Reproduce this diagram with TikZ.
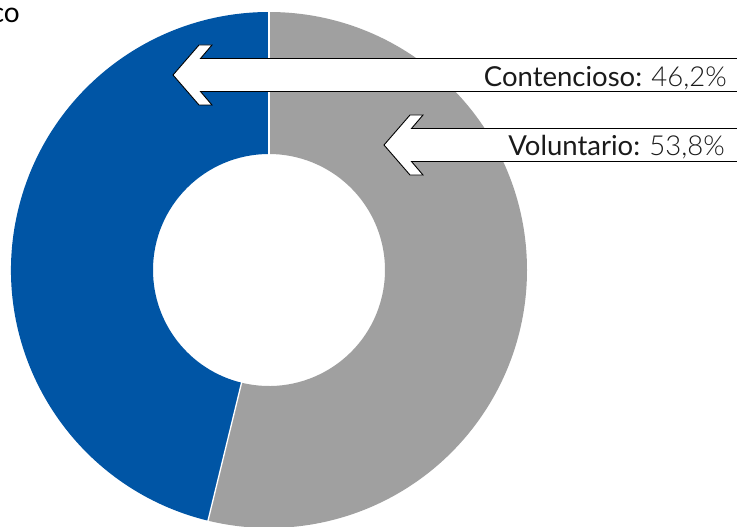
\documentclass[tikz,border=0pt]{standalone}
\usepackage{fontspec}
\setmainfont{Lato}
\newfontfamily\lightfont{Lato Light}
\definecolor{blueC}{HTML}{0055A5}
\definecolor{grayC}{HTML}{A0A0A0}
\definecolor{txtC}{HTML}{1A1A1A}
\tikzset{
  arrowbox/.style={fill=white, draw=black, line width=0.9pt, line join=miter},
  lab/.style={anchor=base east, inner sep=0pt, text=txtC, font=\fontsize{27.5}{32}\selectfont},
  sep/.style={draw=white, line width=1.3pt}
}
\newcommand\dcarrow[2]{%
  \filldraw[arrowbox] (#1,#2) -- ++(26,-30) -- ++(13,0) -- ++(-11.5,13.5)
    -- (760,{#2-16.5}) -- (760,{#2+16.5}) -- ({#1+27.5},{#2+16.5})
    -- ++(11.5,13.5) -- ++(-13,0) -- cycle;}
\begin{document}
\begin{tikzpicture}[x=1pt,y=-1pt]
\useasboundingbox (0,0) rectangle (737,527);
\fill[white] (0,0) rectangle (737,527);
\begin{scope}[shift={(269,270)}]
  \fill[grayC] (-90:258) arc[start angle=-90, end angle=103.68, radius=258]
    -- (103.68:116) arc[start angle=103.68, end angle=-90, radius=116] -- cycle;
  \fill[blueC] (103.68:258) arc[start angle=103.68, end angle=270, radius=258]
    -- (270:116) arc[start angle=270, end angle=103.68, radius=116] -- cycle;
  \draw[sep] (-90:115) -- (-90:259);
  \draw[sep] (103.68:115) -- (103.68:259);
\end{scope}
\dcarrow{173}{75}
\dcarrow{384}{145}
\node[lab] (lab1) at (727,87) {Contencioso: {\lightfont 46,2\%}};
\node[lab] (lab2) at (725,155) {Voluntario: {\lightfont 53,8\%}};
\node[lab, text=black, font=\fontsize{28}{32}\selectfont] (title) at (20,23) {co};
\end{tikzpicture}
\end{document}
